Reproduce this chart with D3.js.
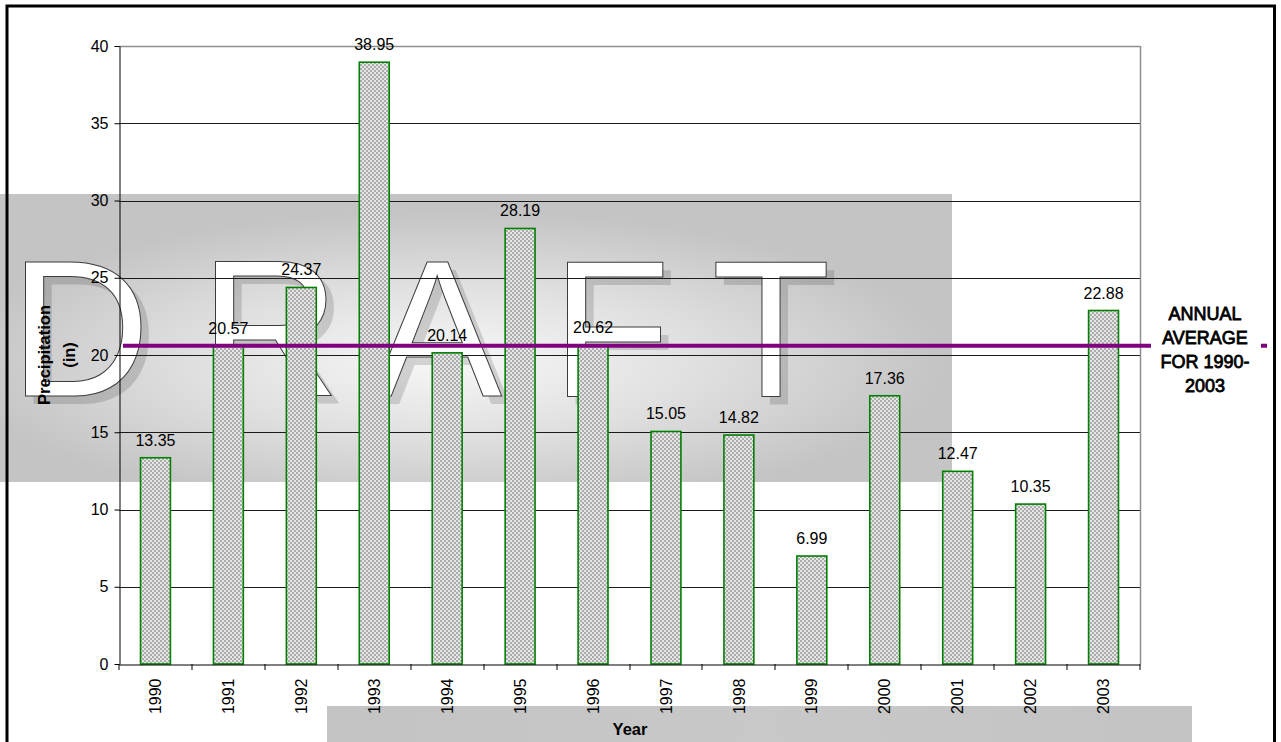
<!DOCTYPE html>
<html>
<head>
<meta charset="utf-8">
<script src="https://cdn.jsdelivr.net/npm/d3@7"></script>
<style>
  html, body { margin: 0; padding: 0; background: #fff; overflow: hidden; }
  svg { display: block; font-family: Arial, "Liberation Sans", sans-serif; }
</style>
</head>
<body>
<svg id="chart" width="1281" height="742"></svg>
<script>
// Annual precipitation, 1990-2003 (inches)
const years = ["1990", "1991", "1992", "1993", "1994", "1995", "1996",
               "1997", "1998", "1999", "2000", "2001", "2002", "2003"];
const precipitation = [13.35, 20.57, 24.37, 38.95, 20.14, 28.19, 20.62,
                       15.05, 14.82, 6.99, 17.36, 12.47, 10.35, 22.88];
const annualAverage = 20.6;
const yTickValues = [0, 5, 10, 15, 20, 25, 30, 35, 40];
const yTitleLines = ["Precipitation", "(in)"];
const xTitle = "Year";
const legendLines = ["ANNUAL", "AVERAGE", "FOR 1990-", "2003"];
const watermarkLetters = ["D", "R", "A", "F", "T"];

const svg = d3.select("#chart");
const plot = { left: 119, top: 46, right: 1140, bottom: 664 };

const x = d3.scaleBand()
  .domain(years)
  .range([plot.left, plot.right])
  .paddingInner(0.59)
  .paddingOuter(0.295);

const y = d3.scaleLinear()
  .domain([0, 40])
  .range([plot.bottom, plot.top]);

const crisp = v => Math.round(v) + 0.5;

// ---------- defs ----------
const defs = svg.append("defs");

const checker = defs.append("pattern")
  .attr("id", "checker")
  .attr("patternUnits", "userSpaceOnUse")
  .attr("width", 4).attr("height", 4);
checker.append("rect").attr("width", 4).attr("height", 4).attr("fill", "#e6e6e6");
checker.append("rect").attr("width", 2).attr("height", 2).attr("fill", "#acacac");
checker.append("rect").attr("x", 2).attr("y", 2).attr("width", 2).attr("height", 2).attr("fill", "#acacac");

const wmGrad = defs.append("radialGradient")
  .attr("id", "wmGrad")
  .attr("cx", 0.47).attr("cy", 0.58).attr("r", 0.52);
wmGrad.append("stop").attr("offset", 0).attr("stop-color", "#f7f7f7");
wmGrad.append("stop").attr("offset", 0.5).attr("stop-color", "#e0e0e0");
wmGrad.append("stop").attr("offset", 1).attr("stop-color", "#c4c4c4");

const wmGrad2 = defs.append("linearGradient")
  .attr("id", "wmGrad2")
  .attr("x1", 0).attr("x2", 1).attr("y1", 0).attr("y2", 0);
wmGrad2.append("stop").attr("offset", 0).attr("stop-color", "#c3c3c3");
wmGrad2.append("stop").attr("offset", 0.5).attr("stop-color", "#c8c8c8");
wmGrad2.append("stop").attr("offset", 1).attr("stop-color", "#c3c3c3");

// ---------- watermark ----------
const wm = svg.append("g").attr("class", "watermark");
wm.append("rect")
  .attr("x", 0).attr("y", 194).attr("width", 952).attr("height", 288)
  .attr("fill", "url(#wmGrad)");
wm.append("rect")
  .attr("x", 327).attr("y", 706).attr("width", 865).attr("height", 40)
  .attr("fill", "url(#wmGrad2)");

const letterCenters = [80, 270, 437, 611, 771];
const letterBaseline = 396;
const letterSize = 195;

wm.selectAll("text.shadow")
  .data(watermarkLetters)
  .join("text")
  .attr("class", "shadow")
  .attr("x", (d, i) => letterCenters[i] + 8)
  .attr("y", letterBaseline + 8)
  .attr("text-anchor", "middle")
  .attr("font-size", letterSize)
  .attr("fill", "#000")
  .attr("fill-opacity", 0.14)
  .text(d => d);

wm.selectAll("text.letter")
  .data(watermarkLetters)
  .join("text")
  .attr("class", "letter")
  .attr("x", (d, i) => letterCenters[i])
  .attr("y", letterBaseline)
  .attr("text-anchor", "middle")
  .attr("font-size", letterSize)
  .attr("fill", "#fff")
  .attr("stroke", "#3c3c3c")
  .attr("stroke-width", 1)
  .text(d => d);

// ---------- gridlines and plot border ----------
const grid = svg.append("g");
grid.selectAll("line.grid")
  .data(yTickValues.filter(v => v > 0 && v < 40))
  .join("line")
  .attr("class", "grid")
  .attr("x1", plot.left).attr("x2", plot.right)
  .attr("y1", d => crisp(y(d))).attr("y2", d => crisp(y(d)))
  .attr("stroke", "#1a1a1a").attr("stroke-width", 1);

grid.append("line")
  .attr("x1", plot.left).attr("x2", plot.right)
  .attr("y1", crisp(y(40))).attr("y2", crisp(y(40)))
  .attr("stroke", "#8e8e8e").attr("stroke-width", 1.5);
grid.append("line")
  .attr("x1", plot.right + 0.5).attr("x2", plot.right + 0.5)
  .attr("y1", y(40)).attr("y2", plot.bottom)
  .attr("stroke", "#8e8e8e").attr("stroke-width", 1.5);

// ---------- bars ----------
const barData = years.map((yr, i) => ({ year: yr, value: precipitation[i] }));

svg.append("g").selectAll("rect")
  .data(barData)
  .join("rect")
  .attr("x", d => x(d.year))
  .attr("y", d => y(d.value))
  .attr("width", x.bandwidth())
  .attr("height", d => y(0) - y(d.value))
  .attr("fill", "url(#checker)")
  .attr("stroke", "#008000")
  .attr("stroke-width", 1.6);

// value labels
svg.append("g").selectAll("text")
  .data(barData)
  .join("text")
  .attr("x", d => x(d.year) + x.bandwidth() / 2)
  .attr("y", d => y(d.value) - 12)
  .attr("text-anchor", "middle")
  .attr("font-size", 16)
  .attr("fill", "#000")
  .text(d => d.value.toFixed(2));

// ---------- average line ----------
svg.append("line")
  .attr("x1", plot.left + 4).attr("x2", plot.right + 11)
  .attr("y1", y(annualAverage)).attr("y2", y(annualAverage))
  .attr("stroke", "#800080").attr("stroke-width", 4);

// ---------- axes ----------
const yAxis = svg.append("g")
  .attr("transform", `translate(${plot.left + 0.5},0)`)
  .call(d3.axisLeft(y).tickValues(yTickValues).tickSize(5).tickSizeOuter(0).tickPadding(6));
yAxis.select(".domain").attr("stroke", "#000");
yAxis.selectAll(".tick line").attr("stroke", "#000");
yAxis.selectAll(".tick text")
  .attr("font-size", 16)
  .attr("font-family", "Arial, 'Liberation Sans', sans-serif")
  .attr("fill", "#000");

const xAxis = svg.append("g")
  .attr("transform", `translate(0,${plot.bottom + 0.5})`)
  .call(d3.axisBottom(x).tickSize(0).tickSizeOuter(0));
xAxis.select(".domain").attr("stroke", "#000");
xAxis.selectAll(".tick text")
  .attr("font-size", 16)
  .attr("font-family", "Arial, 'Liberation Sans', sans-serif")
  .attr("fill", "#000")
  .attr("transform", "rotate(-90)")
  .attr("x", -14)
  .attr("y", 0)
  .attr("dy", "0.35em")
  .attr("text-anchor", "end");

// category boundary ticks
const boundaries = years.map(yr => x(yr) - x.step() * x.paddingInner() / 2).concat([plot.right]);
boundaries[0] = plot.left;
svg.append("g").selectAll("line")
  .data(boundaries)
  .join("line")
  .attr("x1", d => crisp(d) - 0.5).attr("x2", d => crisp(d) - 0.5)
  .attr("y1", plot.bottom).attr("y2", plot.bottom + 6)
  .attr("stroke", "#000").attr("stroke-width", 1);

// ---------- axis titles ----------
const yTitle = svg.append("g");
yTitleLines.forEach((line, i) => {
  yTitle.append("text")
    .attr("transform", `translate(${50 + i * 25},355) rotate(-90)`)
    .attr("text-anchor", "middle")
    .attr("font-size", 16.5)
    .attr("font-weight", "bold")
    .attr("fill", "#000")
    .text(line);
});

svg.append("text")
  .attr("x", 630).attr("y", 735)
  .attr("text-anchor", "middle")
  .attr("font-size", 16.5)
  .attr("font-weight", "bold")
  .attr("fill", "#000")
  .text(xTitle);

// ---------- legend ----------
const legend = svg.append("g");
legend.selectAll("text")
  .data(legendLines)
  .join("text")
  .attr("x", 1205)
  .attr("y", (d, i) => 320 + i * 24)
  .attr("text-anchor", "middle")
  .attr("font-size", 18)
  .attr("fill", "#000")
  .attr("stroke", "#000")
  .attr("stroke-width", 0.8)
  .text(d => d);
legend.append("line")
  .attr("x1", 1261).attr("x2", 1267)
  .attr("y1", y(annualAverage)).attr("y2", y(annualAverage))
  .attr("stroke", "#800080").attr("stroke-width", 4);

// ---------- outer frame ----------
svg.append("rect")
  .attr("x", 7).attr("y", 6)
  .attr("width", 1267.5).attr("height", 800)
  .attr("fill", "none")
  .attr("stroke", "#000")
  .attr("stroke-width", 3);
</script>
</body>
</html>
